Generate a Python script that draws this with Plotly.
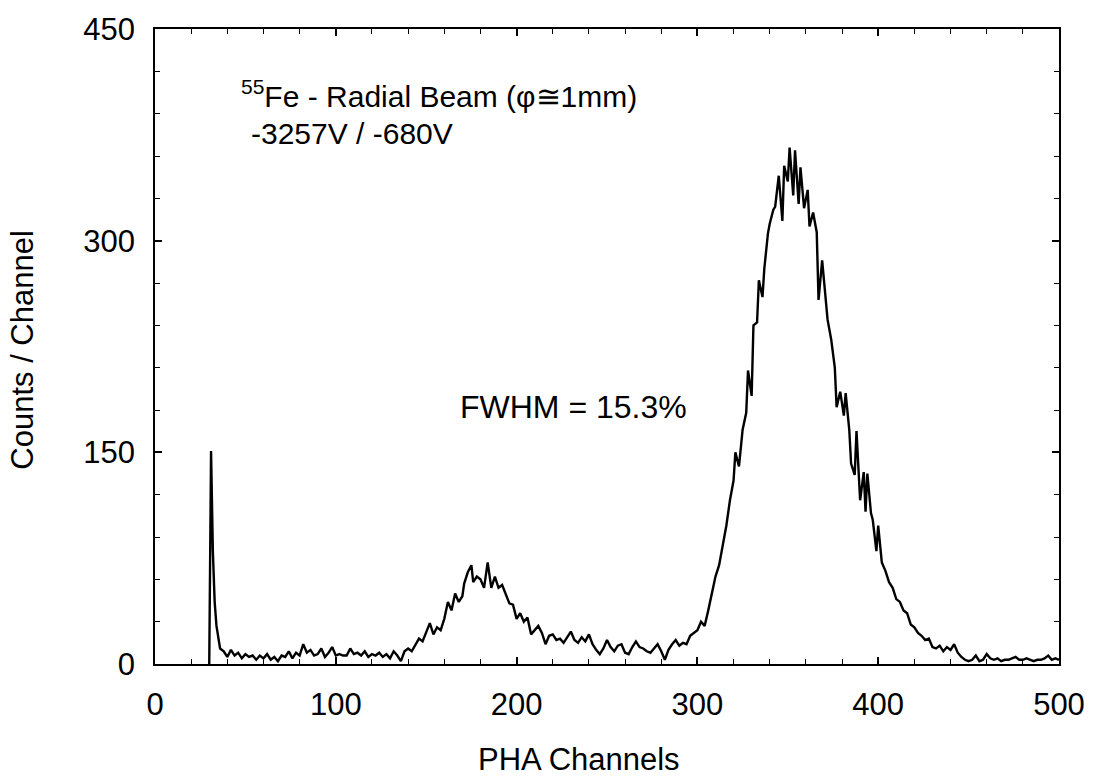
import plotly.graph_objects as go

# PHA spectrum
channels = [30, 31, 32, 33, 34, 35, 36,
            38, 40, 42, 44, 46, 48, 50, 52, 54, 56, 58, 60, 62, 64, 66, 68, 70,
            72, 74, 76, 78, 80, 82, 84, 86, 88, 90, 92, 94, 96, 98, 100,
            102, 104, 106, 108, 110, 112, 114, 116, 118, 120, 122, 124, 126, 128, 130,
            132, 134, 136, 138, 140, 142, 144, 146, 148, 150, 152, 154, 156, 158, 160,
            162, 164, 166, 168, 170, 171, 173, 175, 176, 178, 180, 182, 184, 186, 188,
            190, 192, 194, 196, 198, 200, 202, 204, 206, 208, 210, 212, 214, 216, 218,
            220, 222, 224, 226, 228, 230, 232, 234, 236, 238, 240, 242, 244, 246, 248,
            250, 252, 254, 256, 258, 260, 262, 264, 266, 268, 270, 272, 274, 276, 278,
            280, 282, 284, 286, 288, 290, 292, 294, 296, 298,
            300, 302, 304, 306, 308, 310, 312, 314, 316, 318, 320, 321, 323, 325, 327,
            328, 330, 331, 333, 334, 336, 337, 339, 340, 342, 343, 345, 347, 348, 350,
            351, 353, 354, 356, 357, 359, 361, 362, 364, 366, 367, 369, 371, 372, 374,
            376, 377, 379, 381, 382, 384, 385, 387, 388, 390, 392, 393, 394, 396, 397,
            399, 400, 402, 404, 406, 408, 410, 412, 414, 416, 418, 420, 422, 424, 426,
            428, 430, 432, 434, 436, 438, 440, 442, 444, 446, 448, 450, 452, 454, 456,
            458, 460, 462, 464, 466, 468, 470, 472, 474, 476, 478, 480, 482, 484, 486,
            488, 490, 492, 494, 496, 498, 500]

counts = [0, 151, 80, 44, 27, 17, 11,
          9, 5, 10, 6, 8, 4, 7, 5, 6, 3, 6, 4, 7, 3, 5, 2, 6,
          5, 9, 4, 8, 6, 14, 8, 10, 6, 7, 11, 5, 8, 12, 6,
          7, 6, 6, 11, 7, 8, 6, 9, 5, 7, 6, 8, 5, 7, 4,
          9, 6, 2, 9, 11, 9, 14, 18, 16, 22, 29, 21, 26, 24, 32,
          44, 38, 50, 44, 48, 57, 65, 70, 58, 62, 60, 54, 72, 54, 62,
          54, 56, 50, 43, 42, 32, 36, 30, 33, 21, 24, 27, 22, 14, 20,
          21, 17, 18, 15, 19, 23, 17, 15, 19, 16, 21, 14, 10, 7, 11,
          17, 12, 9, 13, 14, 8, 7, 12, 16, 12, 11, 9, 8, 11, 14,
          9, 3, 10, 14, 17, 13, 15, 14, 20, 22,
          24, 30, 27, 38, 50, 62, 70, 84, 98, 116, 130, 150, 140, 166, 178,
          208, 190, 240, 242, 272, 260, 280, 305, 312, 322, 324, 346, 314, 353, 342,
          366, 332, 364, 326, 352, 323, 336, 310, 320, 306, 258, 286, 260, 244, 230,
          210, 182, 193, 176, 192, 166, 142, 134, 165, 116, 136, 108, 135, 107, 102,
          80, 98, 72, 66, 58, 54, 46, 44, 38, 36, 28, 26, 22, 20, 17,
          18, 12, 11, 13, 9, 12, 10, 14, 8, 5, 3, 2, 3, 6, 2,
          3, 7, 4, 3, 4, 2, 3, 3, 4, 5, 3, 3, 4, 3, 2,
          3, 3, 4, 6, 3, 4, 3]

x_ticks = [0, 100, 200, 300, 400, 500]
y_ticks = [0, 150, 300, 450]

FONT = "Liberation Sans, Arial, sans-serif"

fig = go.Figure()
fig.add_trace(go.Scatter(x=channels, y=counts, mode="lines",
                         line=dict(color="black", width=2.4), showlegend=False,
                         hoverinfo="skip"))

axis_common = dict(
    showgrid=False, zeroline=False, showline=True, linecolor="black", linewidth=1.5,
    mirror="allticks", ticks="inside", ticklen=7, tickwidth=1.5, tickcolor="black",
    tickfont=dict(family=FONT, size=31, color="black"),
)

fig.update_layout(
    width=1097, height=780,
    margin=dict(l=155, r=32, t=24, b=116),
    paper_bgcolor="white", plot_bgcolor="white",
    xaxis=dict(range=[0, 500], tickvals=x_ticks, ticklabelstandoff=12,
               minor=dict(dtick=20, ticks="inside", ticklen=5, tickcolor="black", tickwidth=1),
               **axis_common),
    yaxis=dict(range=[0, 450], tickvals=y_ticks, ticklabelstandoff=12,
               minor=dict(dtick=30, ticks="inside", ticklen=5, tickcolor="black", tickwidth=1),
               **axis_common),
    annotations=[
        dict(text="PHA Channels", xref="paper", yref="paper", x=0.469, y=-0.15,
             xanchor="center", yanchor="middle", showarrow=False,
             font=dict(family=FONT, size=31, color="black")),
        dict(text="Counts / Channel", xref="paper", yref="paper", x=-0.146, y=0.495,
             xanchor="center", yanchor="middle", textangle=-90, showarrow=False,
             font=dict(family=FONT, size=31, color="black")),
        dict(text="<sup>55</sup>Fe - Radial Beam (φ≅1mm)", x=46.5, y=404,
             xanchor="left", yanchor="middle", showarrow=False,
             font=dict(family=FONT, size=30, color="black")),
        dict(text="-3257V / -680V", x=52, y=376,
             xanchor="left", yanchor="middle", showarrow=False,
             font=dict(family=FONT, size=30, color="black")),
        dict(text="FWHM = 15.3%", x=167.5, y=182,
             xanchor="left", yanchor="middle", showarrow=False,
             font=dict(family=FONT, size=32, color="black")),
    ],
)

fig.write_html("out.html")
